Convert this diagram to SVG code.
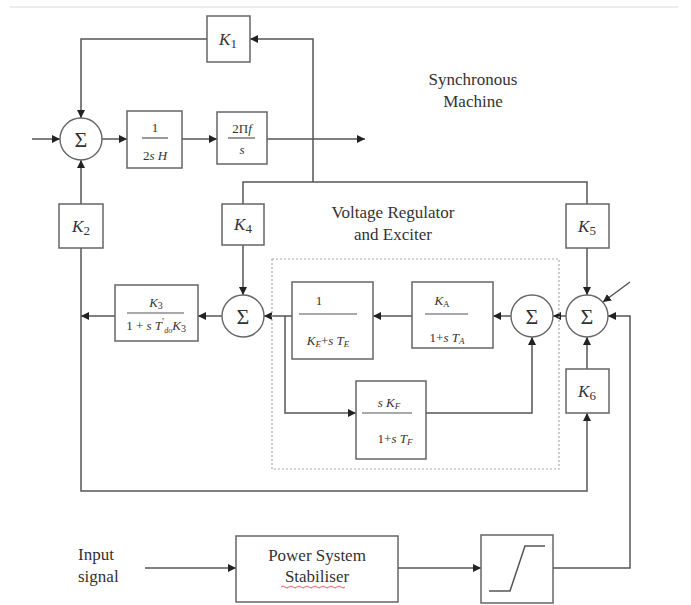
<svg xmlns="http://www.w3.org/2000/svg" width="691" height="605" viewBox="0 0 691 605">
<defs>
<marker id="ah" viewBox="0 0 10 10" refX="10" refY="5" markerWidth="8" markerHeight="8" markerUnits="userSpaceOnUse" orient="auto"><path d="M0,0 L10,5 L0,10 z" fill="#222"/></marker>
</defs>
<style>
.bx{fill:#fff;stroke:#666;stroke-width:1.5}
.sum{fill:#fff;stroke:#666;stroke-width:1.4}
.ln{fill:none;stroke:#555;stroke-width:1.5}
.ar{fill:none;stroke:#555;stroke-width:1.5;marker-end:url(#ah)}
.fl{stroke:#555;stroke-width:1.2}
.t{font-family:"Liberation Serif","Times New Roman",serif;fill:#333}
.lab{font-size:17px;text-anchor:middle}
.k{font-size:17px;text-anchor:middle;font-style:italic}
.f{font-size:13px;text-anchor:middle;font-style:italic}
.sg{font-size:22px;text-anchor:middle}
.n{font-style:normal}
</style>
<rect width="691" height="605" fill="#fff"/>
<line x1="10" y1="7" x2="678" y2="7" stroke="#e6e6e6" stroke-width="1.5"/>

<g id="connectors">
<path class="ar" d="M32,139 H60"/>
<path class="ar" d="M102,139 H127"/>
<path class="ar" d="M182,139 H217"/>
<path class="ar" d="M267,139 H365"/>
<path class="ar" d="M313,182 V39 H250"/>
<path class="ar" d="M207,39 H81 V118"/>
<path class="ln" d="M243,204 V182 H587 V204"/>
<path class="ar" d="M81,204 V160"/>
<path class="ar" d="M81,248 V491 H587 V413"/>
<path class="ar" d="M243,245 V295"/>
<path class="ar" d="M222,316 H198"/>
<path class="ar" d="M115,316 H81"/>
<path class="ar" d="M292,316 H264"/>
<path class="ar" d="M412,316 H373"/>
<path class="ar" d="M511,316 H493"/>
<path class="ar" d="M566,316 H553"/>
<path class="ar" d="M285,316 V413 H356"/>
<path class="ar" d="M426,413 H532 V337"/>
<path class="ar" d="M587,248 V295"/>
<path class="ar" d="M587,369 V337"/>
<path class="ar" d="M630,282 L603,302"/>
<path class="ar" d="M553,568 H630 V316 H608"/>
<path class="ar" d="M145,568 H236"/>
<path class="ar" d="M398,568 H481"/>
</g>

<g id="exciter-frame">
<rect x="272" y="259" width="287" height="210" fill="none" stroke="#aaa" stroke-width="1.2" stroke-dasharray="2,2"/>
</g>

<g id="sum1"><circle class="sum" cx="81" cy="139" r="21"/><text class="t sg" x="81" y="147">Σ</text></g>
<g id="sum2"><circle class="sum" cx="243" cy="316" r="21"/><text class="t sg" x="243" y="324">Σ</text></g>
<g id="sum3"><circle class="sum" cx="532" cy="316" r="21"/><text class="t sg" x="532" y="324">Σ</text></g>
<g id="sum4"><circle class="sum" cx="587" cy="316" r="21"/><text class="t sg" x="587" y="324">Σ</text></g>

<g id="K1"><rect class="bx" x="207" y="16" width="43" height="46"/><text class="t k" x="228" y="45">K<tspan class="n" font-size="13" dy="3">1</tspan></text></g>
<g id="K2"><rect class="bx" x="59" y="204" width="44" height="44"/><text class="t k" x="81" y="232">K<tspan class="n" font-size="13" dy="3">2</tspan></text></g>
<g id="K4"><rect class="bx" x="222" y="204" width="42" height="41"/><text class="t k" x="243" y="230">K<tspan class="n" font-size="13" dy="3">4</tspan></text></g>
<g id="K5"><rect class="bx" x="566" y="204" width="43" height="44"/><text class="t k" x="587" y="232">K<tspan class="n" font-size="13" dy="3">5</tspan></text></g>
<g id="K6"><rect class="bx" x="566" y="369" width="43" height="44"/><text class="t k" x="587" y="397">K<tspan class="n" font-size="13" dy="3">6</tspan></text></g>

<g id="inertia"><rect class="bx" x="127" y="111" width="55" height="57"/>
<text class="t f n" x="155" y="132" font-size="14">1</text><line class="fl" x1="142" y1="138" x2="168" y2="138"/>
<text class="t f" x="155" y="160"><tspan class="n">2</tspan>s H</text></g>

<g id="angle"><rect class="bx" x="217" y="112" width="50" height="52"/>
<text class="t f" x="242" y="133" font-size="14"><tspan class="n">2Π</tspan>f</text><line class="fl" x1="228" y1="138" x2="255" y2="138"/>
<text class="t f" x="242" y="154">s</text></g>

<g id="field"><rect class="bx" x="115" y="285" width="83" height="56"/>
<text class="t f" x="156" y="307">K<tspan class="n" font-size="10" dy="2">3</tspan></text><line class="fl" x1="127" y1="313" x2="184" y2="313"/>
<text class="t f" x="156" y="330"><tspan class="n">1 + </tspan>s T<tspan class="n" font-size="10" dy="-5">′</tspan><tspan font-size="8" dy="8">do</tspan><tspan dy="-3">K</tspan><tspan class="n" font-size="10" dy="2">3</tspan></text></g>

<g id="exciter"><rect class="bx" x="292" y="282" width="81" height="77"/>
<text class="t f n" x="319" y="305" font-size="15">1</text><line class="fl" x1="299" y1="314" x2="357" y2="314"/>
<text class="t f" x="328" y="345">K<tspan font-size="9" dy="2">E</tspan><tspan class="n" dy="-2">+</tspan>s T<tspan font-size="9" dy="2">E</tspan></text></g>

<g id="amplifier"><rect class="bx" x="412" y="282" width="81" height="66"/>
<text class="t f" x="442" y="305">K<tspan class="n" font-size="9" dy="2">A</tspan></text><line class="fl" x1="425" y1="314" x2="468" y2="314"/>
<text class="t f" x="447" y="342"><tspan class="n">1+</tspan>s T<tspan font-size="9" dy="2">A</tspan></text></g>

<g id="stabilising"><rect class="bx" x="356" y="381" width="70" height="78"/>
<text class="t f" x="389" y="407">s K<tspan font-size="9" dy="2">F</tspan></text><line class="fl" x1="362" y1="413" x2="412" y2="413"/>
<text class="t f" x="395" y="443"><tspan class="n">1+</tspan>s T<tspan font-size="9" dy="2">F</tspan></text></g>

<g id="pss"><rect class="bx" x="236" y="536" width="162" height="66"/>
<text class="t lab" x="317" y="561">Power System</text>
<text class="t lab" x="317" y="582">Stabiliser</text>
<path d="M281,587 q2,-2 4,0 t4,0 t4,0 t4,0 t4,0 t4,0 t4,0 t4,0 t4,0 t4,0 t4,0 t4,0 t4,0 t4,0 t4,0 t4,0" fill="none" stroke="#d33" stroke-width="0.8"/></g>

<g id="limiter"><rect class="bx" x="481" y="535" width="72" height="68"/>
<path class="ln" d="M489,591 H510 L525,546 H545"/></g>

<g id="labels">
<text class="t lab" x="473" y="85">Synchronous</text>
<text class="t lab" x="473" y="107">Machine</text>
<text class="t lab" x="393" y="218">Voltage Regulator</text>
<text class="t lab" x="393" y="240">and Exciter</text>
<text class="t" x="78" y="560" font-size="17">Input</text>
<text class="t" x="78" y="582" font-size="17">signal</text>
</g>
</svg>
